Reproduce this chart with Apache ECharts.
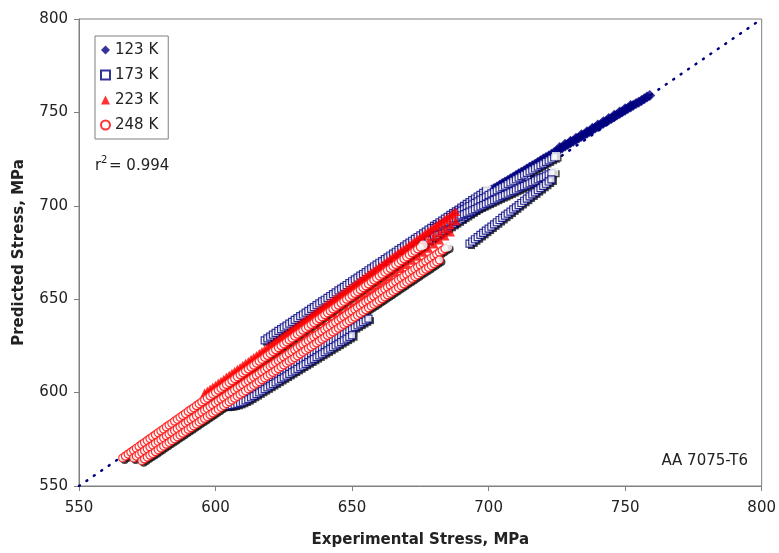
<!DOCTYPE html>
<html><head><meta charset="utf-8">
<script src="https://cdn.jsdelivr.net/npm/echarts@6/dist/echarts.min.js"></script>
<style>html,body{margin:0;padding:0;background:#fff}#c{width:779px;height:553px}</style>
</head><body><div id="c"></div>
<script>
// axis ticks (both axes)
const axisTicks = [550, 600, 650, 700, 750, 800];
// line of equality
const diagonal = [[550, 550], [800, 800]];

// 123 K (filled diamonds)
const k123_a = [[688,697.0],[689,697.9],[690,698.7],[691,699.6],[692,700.5],[693,701.4],[694,702.2],[695,703.1],[696,704.0],[697,704.9],[698,705.7],[699,706.6],[700,707.5],[701,708.4],[702,709.2],[703,710.1],[704,711.0],[705,711.9],[706,712.7],[707,713.6],[708,714.5],[709,715.3],[710,716.2],[711,717.1],[712,718.0],[713,718.8],[714,719.7],[715,720.6],[716,721.5],[717,722.3],[718,723.2],[719,724.1],[720,725.0],[721,725.8],[722,726.7],[723,727.6],[724,728.5],[725,729.3],[726,730.2],[727,731.1],[728,732.0],[729,732.8],[730,733.7],[731,734.6],[732,735.4],[733,736.3],[734,737.2],[735,738.1],[736,738.9],[737,739.8],[738,740.7],[739,741.6],[740,742.4],[741,743.3],[742,744.2],[743,745.1],[744,745.9],[745,746.8],[746,747.7],[747,748.6],[748,749.4],[749,750.3],[750,751.2],[751,752.1],[752,752.9],[753,753.8],[754,754.7],[755,755.5],[756,756.4],[757,757.3],[758,758.2],[759,759.0]];
const k123_b = [[726,731.2],[728,733.0],[730,734.5],[732,736.2],[734,738.0],[736,739.7],[738,741.5],[740,743.2],[742,745.0],[744,746.7],[746,748.5],[748,750.2],[750,752.0],[752,753.7]];

// 173 K (open squares)
const k173_a = [[618,628.0],[619,629.0],[620,630.0],[621,631.0],[622,632.0],[623,633.0],[624,634.0],[625,634.9],[626,635.9],[627,636.9],[628,637.9],[629,638.9],[630,639.9],[631,640.9],[632,641.8],[633,642.8],[634,643.8],[635,644.8],[636,645.8],[637,646.8],[638,647.8],[639,648.8],[640,649.7],[641,650.7],[642,651.7],[643,652.7],[644,653.7],[645,654.7],[646,655.7],[647,656.6],[648,657.6],[649,658.6],[650,659.6],[651,660.6],[652,661.6],[653,662.6],[654,663.5],[655,664.5],[656,665.5],[657,666.5],[658,667.5],[659,668.5],[660,669.5],[661,670.4],[662,671.4],[663,672.4],[664,673.4],[665,674.4],[666,675.4],[667,676.4],[668,677.3],[669,678.3],[670,679.3],[671,680.3],[672,681.3],[673,682.3],[674,683.3],[675,684.2],[676,685.2],[677,686.2],[678,687.2],[679,688.2],[680,689.2],[681,690.2],[682,691.1],[683,692.1],[684,693.1],[685,694.1],[686,695.1],[687,696.1],[688,697.0],[689,698.0],[690,699.0],[691,700.0],[692,701.0],[693,702.0],[694,703.0],[695,703.9],[696,704.9],[697,705.9],[698,706.9],[699,707.9],[699.5,708.5]];
const k173_b = [[660,664.3],[662,666.2],[664,668.1],[666,670.1],[668,672.0],[670,673.9],[672,675.9],[674,677.8],[676,679.7],[678,681.6],[680,683.6],[681,684.5],[682,685.5],[683,686.5],[684,687.4],[685,688.4],[686,689.3],[687,690.3],[688,691.3],[689,692.2],[690,693.2],[691,694.2],[692,695.1],[693,696.1],[694,697.0],[695,698.0],[696,699.0],[697,699.9],[698,700.9],[699,701.9],[700,702.8],[701,703.8],[702,704.7],[703,705.7],[704,706.7],[705,707.6],[706,708.6],[707,709.6],[708,710.5],[709,711.5],[710,712.4],[711,713.4],[712,714.4],[713,715.3],[713.7,716.0]];
const k173_c = [[686,694.0],[687,694.8],[688,695.7],[689,696.5],[690,697.4],[691,698.2],[692,699.1],[693,699.9],[694,700.7],[695,701.6],[696,702.4],[697,703.3],[698,704.1],[699,704.9],[700,705.8],[701,706.6],[702,707.5],[703,708.3],[704,709.2],[705,710.0],[706,710.8],[707,711.7],[708,712.5],[709,713.4],[710,714.2],[711,715.1],[712,715.9],[713,716.7],[714,717.6],[715,718.4],[716,719.3],[717,720.1],[718,721.0],[719,721.8],[720,722.6],[721,723.5],[722,724.3],[723,725.2],[724,726.0],[724.7,726.6]];
const k173_d = [[680,688.0],[681,688.7],[682,689.4],[683,690.1],[684,690.7],[685,691.4],[686,692.1],[687,692.8],[688,693.5],[689,694.2],[690,694.9],[691,695.5],[692,696.2],[693,696.9],[694,697.6],[695,698.3],[696,699.0],[697,699.7],[698,700.3],[699,701.0],[700,701.7],[701,702.4],[702,703.1],[703,703.8],[704,704.5],[705,705.2],[706,705.8],[707,706.5],[708,707.2],[709,707.9],[710,708.6],[711,709.3],[712,710.0],[713,710.6],[714,711.3],[715,712.0],[716,712.7],[717,713.4],[718,714.1],[719,714.8],[720,715.4],[721,716.1],[722,716.8],[723,717.5],[724,718.2]];
const k173_e = [[598,593.0],[599,593.1],[600,593.3],[601,593.5],[602,593.8],[603,594.1],[604,594.5],[605,595.0],[606,595.5],[607,596.1],[608,596.8],[609,597.5],[610,598.3],[611,599.1],[612,600.0],[613,600.9],[614,601.8],[615,602.7],[616,603.6],[617,604.5],[618,605.4],[619,606.3],[620,607.2],[621,608.1],[622,609.0],[623,609.9],[624,610.8],[625,611.7],[626,612.6],[627,613.5],[628,614.4],[629,615.3],[630,616.2],[631,617.1],[632,618.0],[633,618.9],[634,619.8],[635,620.7],[636,621.6],[637,622.5],[638,623.4],[639,624.3],[640,625.2],[641,626.1],[642,627.0],[643,627.9],[644,628.8],[645,629.7],[646,630.6],[647,631.5],[648,632.4],[649,633.3],[650,634.2],[651,635.1],[652,636.0],[653,636.9],[654,637.8],[655,638.7],[656,639.6]];
const k173_f = [[693,679.8],[694,680.9],[695,682.1],[696,683.2],[697,684.4],[698,685.5],[699,686.7],[700,687.8],[701,688.9],[702,690.1],[703,691.2],[704,692.4],[705,693.5],[706,694.7],[707,695.8],[708,696.9],[709,698.1],[710,699.2],[711,700.4],[712,701.5],[713,702.7],[714,703.8],[715,705.0],[716,706.1],[717,707.2],[718,708.4],[719,709.5],[720,710.7],[721,711.8],[722,713.0],[723,714.1]];
const k173_g = [[604,593.0],[605,593.1],[606,593.3],[607,593.6],[608,594.0],[609,594.5],[610,595.1],[611,595.8],[612,596.5],[613,597.4],[614,598.3],[615,599.2],[616,600.1],[617,601.0],[618,601.9],[619,602.8],[620,603.7],[621,604.6],[622,605.5],[623,606.4],[624,607.3],[625,608.2],[626,609.1],[627,610.0],[628,610.9],[629,611.8],[630,612.7],[631,613.6],[632,614.5],[633,615.4],[634,616.3],[635,617.2],[636,618.1],[637,619.0],[638,619.9],[639,620.8],[640,621.7],[641,622.6],[642,623.5],[643,624.4],[644,625.3],[645,626.2],[646,627.1],[647,628.0],[648,628.9],[649,629.8],[650,630.7]];

// 223 K (filled triangles)
const k223_a = [[596,599.8],[597,600.9],[598,601.9],[599,603.0],[600,604.0],[601,605.1],[602,606.1],[603,607.2],[604,608.3],[605,609.3],[606,610.4],[607,611.4],[608,612.5],[609,613.5],[610,614.6],[611,615.7],[612,616.7],[613,617.8],[614,618.8],[615,619.9],[616,620.9],[617,622.0],[618,623.1],[619,624.1],[620,625.2],[621,626.2],[622,627.3],[623,628.3],[624,629.4],[625,630.5],[626,631.5],[627,632.6],[628,633.6],[629,634.7],[630,635.7],[631,636.8],[632,637.8],[633,638.9],[634,640.0],[635,641.0],[636,642.1],[637,643.1],[638,644.2],[639,645.2],[640,646.3],[641,647.4],[642,648.4],[643,649.5],[644,650.5],[645,651.6],[646,652.6],[647,653.7],[648,654.7],[649,655.8],[650,656.9],[651,657.9],[652,659.0],[653,660.0],[654,661.1],[655,662.1],[656,663.2],[657,664.3],[658,665.3],[659,666.4],[660,667.4],[661,668.5],[662,669.5],[663,670.6],[664,671.6],[665,672.7],[666,673.8],[667,674.8],[668,675.9],[669,676.9],[670,678.0],[671,679.0],[672,680.1],[673,681.2],[674,682.2],[675,683.3],[676,684.3],[677,685.4],[678,686.4],[679,687.5],[680,688.6],[681,689.6],[682,690.7],[683,691.7],[684,692.8],[685,693.8],[686,694.9],[687,695.9],[688,697.0]];
const k223_b = [[602,600.0],[604,602.1],[606,604.3],[608,606.4],[610,608.6],[612,610.7],[614,612.8],[616,615.0],[618,617.1],[620,619.3],[622,621.4],[624,623.5],[626,625.7],[628,627.8],[630,630.0],[632,632.1],[634,634.2],[636,636.4],[638,638.5],[640,640.7],[642,642.8],[644,644.9],[646,647.1],[648,649.2],[650,651.4],[652,653.5],[654,655.6],[656,657.8],[658,659.9],[660,662.1],[662,664.2],[664,666.3],[666,668.5],[668,670.6],[670,672.8],[672,674.9],[674,677.0],[676,679.2],[678,681.3],[680,683.5],[682,685.6],[684,687.7],[686,689.9],[688,692.0]];
const k223_c = [[604,597.0],[606,599.2],[608,601.3],[610,603.5],[612,605.7],[614,607.9],[616,610.0],[618,612.2],[620,614.4],[622,616.5],[624,618.7],[626,620.9],[628,623.0],[630,625.2],[632,627.4],[634,629.6],[636,631.7],[638,633.9],[640,636.1],[642,638.2],[644,640.4],[646,642.6],[648,644.8],[650,646.9],[652,649.1],[654,651.3],[656,653.4],[658,655.6],[660,657.8],[662,660.0],[664,662.1],[666,664.3],[668,666.5],[670,668.6],[672,670.8],[674,673.0],[676,675.1],[678,677.3],[680,679.5],[682,681.7],[684,683.8],[686,686.0]];

// 248 K (open circles)
const k248_a = [[566,565.0],[567,566.0],[568,567.1],[569,568.1],[570,569.1],[571,570.2],[572,571.2],[573,572.3],[574,573.3],[575,574.3],[576,575.4],[577,576.4],[578,577.4],[579,578.5],[580,579.5],[581,580.5],[582,581.6],[583,582.6],[584,583.6],[585,584.7],[586,585.7],[587,586.8],[588,587.8],[589,588.8],[590,589.9],[591,590.9],[592,591.9],[593,593.0],[594,594.0],[595,595.0],[596,596.1],[597,597.1],[598,598.2],[599,599.2],[600,600.2],[601,601.3],[602,602.3],[603,603.3],[604,604.4],[605,605.4],[606,606.4],[607,607.5],[608,608.5],[609,609.6],[610,610.6],[611,611.6],[612,612.7],[613,613.7],[614,614.7],[615,615.8],[616,616.8],[617,617.8],[618,618.9],[619,619.9],[620,620.9],[621,622.0],[622,623.0],[623,624.1],[624,625.1],[625,626.1],[626,627.2],[627,628.2],[628,629.2],[629,630.3],[630,631.3],[631,632.3],[632,633.4],[633,634.4],[634,635.4],[635,636.5],[636,637.5],[637,638.6],[638,639.6],[639,640.6],[640,641.7],[641,642.7],[642,643.7],[643,644.8],[644,645.8],[645,646.8],[646,647.9],[647,648.9],[648,650.0],[649,651.0],[650,652.0],[651,653.1],[652,654.1],[653,655.1],[654,656.2],[655,657.2],[656,658.2],[657,659.3],[658,660.3],[659,661.3],[660,662.4],[661,663.4],[662,664.5],[663,665.5],[664,666.5],[665,667.6],[666,668.6],[667,669.6],[668,670.7],[669,671.7],[670,672.7],[671,673.8],[672,674.8],[673,675.8],[674,676.9],[675,677.9],[676,678.9]];
const k248_b = [[570,565.0],[571,566.0],[572,567.0],[573,567.9],[574,568.9],[575,569.9],[576,570.9],[577,571.9],[578,572.9],[579,573.8],[580,574.8],[581,575.8],[582,576.8],[583,577.8],[584,578.8],[585,579.7],[586,580.7],[587,581.7],[588,582.7],[589,583.7],[590,584.7],[591,585.6],[592,586.6],[593,587.6],[594,588.6],[595,589.6],[596,590.6],[597,591.5],[598,592.5],[599,593.5],[600,594.5],[601,595.5],[602,596.5],[603,597.4],[604,598.4],[605,599.4],[606,600.4],[607,601.4],[608,602.4],[609,603.3],[610,604.3],[611,605.3],[612,606.3],[613,607.3],[614,608.3],[615,609.2],[616,610.2],[617,611.2],[618,612.2],[619,613.2],[620,614.2],[621,615.1],[622,616.1],[623,617.1],[624,618.1],[625,619.1],[626,620.0],[627,621.0],[628,622.0],[629,623.0],[630,624.0],[631,625.0],[632,625.9],[633,626.9],[634,627.9],[635,628.9],[636,629.9],[637,630.9],[638,631.8],[639,632.8],[640,633.8],[641,634.8],[642,635.8],[643,636.8],[644,637.7],[645,638.7],[646,639.7],[647,640.7],[648,641.7],[649,642.7],[650,643.6],[651,644.6],[652,645.6],[653,646.6],[654,647.6],[655,648.6],[656,649.5],[657,650.5],[658,651.5],[659,652.5],[660,653.5],[661,654.5],[662,655.4],[663,656.4],[664,657.4],[665,658.4],[666,659.4],[667,660.4],[668,661.3],[669,662.3],[670,663.3],[671,664.3],[672,665.3],[673,666.3],[674,667.2],[675,668.2],[676,669.2],[677,670.2],[678,671.2],[679,672.2],[680,673.1],[681,674.1],[682,675.1],[683,676.1],[684,677.1],[685,678.0]];
const k248_c = [[573,563.5],[574,564.5],[575,565.5],[576,566.5],[577,567.4],[578,568.4],[579,569.4],[580,570.4],[581,571.4],[582,572.4],[583,573.4],[584,574.3],[585,575.3],[586,576.3],[587,577.3],[588,578.3],[589,579.3],[590,580.3],[591,581.2],[592,582.2],[593,583.2],[594,584.2],[595,585.2],[596,586.2],[597,587.2],[598,588.2],[599,589.1],[600,590.1],[601,591.1],[602,592.1],[603,593.1],[604,594.1],[605,595.1],[606,596.0],[607,597.0],[608,598.0],[609,599.0],[610,600.0],[611,601.0],[612,602.0],[613,602.9],[614,603.9],[615,604.9],[616,605.9],[617,606.9],[618,607.9],[619,608.9],[620,609.8],[621,610.8],[622,611.8],[623,612.8],[624,613.8],[625,614.8],[626,615.8],[627,616.8],[628,617.7],[629,618.7],[630,619.7],[631,620.7],[632,621.7],[633,622.7],[634,623.7],[635,624.6],[636,625.6],[637,626.6],[638,627.6],[639,628.6],[640,629.6],[641,630.6],[642,631.5],[643,632.5],[644,633.5],[645,634.5],[646,635.5],[647,636.5],[648,637.5],[649,638.4],[650,639.4],[651,640.4],[652,641.4],[653,642.4],[654,643.4],[655,644.4],[656,645.4],[657,646.3],[658,647.3],[659,648.3],[660,649.3],[661,650.3],[662,651.3],[663,652.3],[664,653.2],[665,654.2],[666,655.2],[667,656.2],[668,657.2],[669,658.2],[670,659.2],[671,660.1],[672,661.1],[673,662.1],[674,663.1],[675,664.1],[676,665.1],[677,666.1],[678,667.0],[679,668.0],[680,669.0],[681,670.0],[682,671.0]];

const curves123 = [k123_a, k123_b];
const curves173 = [k173_a, k173_b, k173_c, k173_d, k173_e, k173_f, k173_g];
const curves223 = [k223_a, k223_b, k223_c];
const curves248 = [k248_a, k248_b, k248_c];
// curves whose last point is drawn as a white (highlighted) marker
const hi173 = [0, 1, 2, 3];
const hi248 = [0, 1];

const NAVY = '#000080', RED = '#ff0000';
const FONT = '"DejaVu Sans", "Liberation Sans", sans-serif';

function items(curves, hi, hiStyle) {
  const out = [];
  curves.forEach((c, ci) => c.forEach((p, pi) => {
    const it = { value: p };
    if (hi.includes(ci) && pi === c.length - 1) it.itemStyle = hiStyle;
    out.push(it);
  }));
  return out;
}
const flat = cs => cs.reduce((a, c) => a.concat(c), []);
const whiteEnd = { color: '#fff', borderColor: '#e8e8e8' };

const chart = echarts.init(document.getElementById('c'), null, { renderer: 'canvas' });
chart.setOption({
  animation: false,
  backgroundColor: '#fff',
  grid: { left: 79, right: 16, top: 19, bottom: 64, show: true, borderColor: '#808080', borderWidth: 1, backgroundColor: 'transparent' },
  xAxis: {
    type: 'value', min: axisTicks[0], max: axisTicks[axisTicks.length - 1], interval: 50,
    axisLine: { show: true, lineStyle: { color: '#808080', width: 1 } },
    axisTick: { show: true, length: 5, lineStyle: { color: '#808080' } },
    splitLine: { show: false },
    axisLabel: { fontSize: 15, fontFamily: FONT, color: '#222', margin: 15 },
    name: 'Experimental Stress, MPa', nameLocation: 'middle', nameGap: 47,
    nameTextStyle: { fontSize: 15, fontWeight: 'bold', fontFamily: FONT, color: '#222' }
  },
  yAxis: {
    type: 'value', min: axisTicks[0], max: axisTicks[axisTicks.length - 1], interval: 50,
    axisLine: { show: true, lineStyle: { color: '#808080', width: 1 } },
    axisTick: { show: true, length: 5, lineStyle: { color: '#808080' } },
    splitLine: { show: false },
    axisLabel: { fontSize: 15, fontFamily: FONT, color: '#222', margin: 11 },
    name: 'Predicted Stress, MPa', nameLocation: 'middle', nameGap: 52,
    nameTextStyle: { fontSize: 15, fontWeight: 'bold', fontFamily: FONT, color: '#222' }
  },
  legend: {
    left: 95, top: 36, orient: 'vertical', selectedMode: false,
    backgroundColor: '#fff', borderColor: '#808080', borderWidth: 1,
    padding: [6, 10, 6, 5], itemGap: 9, itemWidth: 9, itemHeight: 9,
    textStyle: { fontSize: 15, fontFamily: FONT, color: '#222', lineHeight: 16 },
    data: ['123 K', '173 K', '223 K', '248 K']
  },
  graphic: [
    { type: 'text', left: 95, top: 159, style: { text: 'r', font: '15px ' + FONT, fill: '#222' } },
    { type: 'text', left: 101, top: 155, style: { text: '2', font: '10px ' + FONT, fill: '#222' } },
    { type: 'text', left: 109, top: 159, style: { text: '= 0.994', font: '15px ' + FONT, fill: '#222' } },
    { type: 'text', right: 31, top: 454, style: { text: 'AA 7075-T6', font: '15px ' + FONT, fill: '#222' } }
  ],
  series: [
    { type: 'line', data: diagonal, symbol: 'none', silent: true, z: 1,
      lineStyle: { color: NAVY, width: 2.5, type: [1, 8], cap: 'round' } },
    { type: 'scatter', data: flat(curves173), symbol: 'rect', symbolSize: 7, symbolOffset: [2, 2], silent: true, z: 1,
      itemStyle: { color: '#111' } },
    { type: 'scatter', data: flat(curves248), symbol: 'circle', symbolSize: 8, symbolOffset: [2, 2], silent: true, z: 1,
      itemStyle: { color: '#111' } },
    { name: '123 K', type: 'scatter', data: items(curves123, [], null), symbol: 'diamond', symbolSize: 11, z: 2,
      itemStyle: { color: NAVY } },
    { name: '173 K', type: 'scatter', data: items(curves173, hi173, whiteEnd), symbol: 'rect', symbolSize: 7, z: 2,
      itemStyle: { color: '#fff', borderColor: NAVY, borderWidth: 1.2 } },
    { name: '223 K', type: 'scatter', data: items(curves223, [], null), symbol: 'triangle', symbolSize: 9, z: 2,
      itemStyle: { color: RED } },
    { name: '248 K', type: 'scatter', data: items(curves248, hi248, whiteEnd), symbol: 'circle', symbolSize: 8, z: 2,
      itemStyle: { color: '#fff', borderColor: RED, borderWidth: 1.2 } }
  ]
});
</script>
</body></html>
